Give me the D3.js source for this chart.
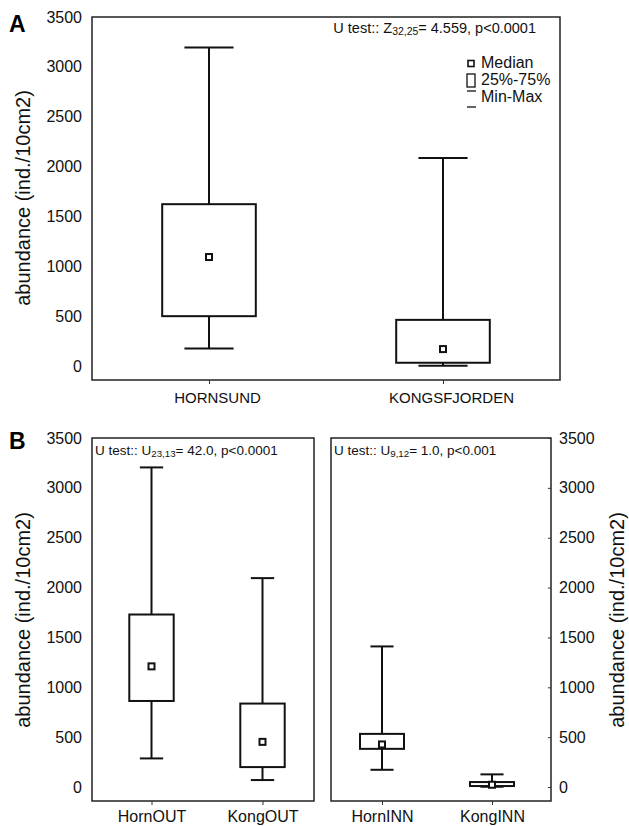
<!DOCTYPE html>
<html>
<head>
<meta charset="utf-8">
<script src="https://cdn.jsdelivr.net/npm/d3@7"></script>
<style>
  body { margin: 0; background: #fff; }
  svg { font-family: "Liberation Sans", Arial, sans-serif; }
</style>
</head>
<body>
<div id="wrapper"></div>
<script>
// panel A data
const sitesA = ["HORNSUND", "KONGSFJORDEN"]
const minA = [177, 3]
const q1A = [500, 33]
const medianA = [1093, 170]
const q3A = [1623, 463]
const maxA = [3193, 2085]

// panel B data (outer / inner fjord)
const sitesOut = ["HornOUT", "KongOUT"]
const minOut = [287, 70]
const q1Out = [863, 200]
const medianOut = [1210, 453]
const q3Out = [1730, 837]
const maxOut = [3205, 2095]

const sitesInn = ["HornINN", "KongINN"]
const minInn = [173, 3]
const q1Inn = [383, 10]
const medianInn = [427, 23]
const q3Inn = [533, 50]
const maxInn = [1410, 127]

const yTicks = [0, 500, 1000, 1500, 2000, 2500, 3000, 3500]
const yDomain = [-140, 3500]
const yTitle = "abundance (ind./10cm2)"

const width = 629
const height = 826

const svg = d3.select("#wrapper")
  .append("svg")
    .attr("width", width)
    .attr("height", height)

function rows(sites, mins, q1s, meds, q3s, maxs) {
  return sites.map((s, i) => ({site: s, min: mins[i], q1: q1s[i], median: meds[i], q3: q3s[i], max: maxs[i]}))
}

// draws one framed box plot panel
function drawPanel(p) {
  const g = svg.append("g")
  const x = d3.scalePoint()
    .domain(p.data.map(d => d.site))
    .range([p.left + p.shift, p.right + p.shift])
    .padding(0.5)
  const y = d3.scaleLinear()
    .domain(yDomain)
    .range([p.bottom, p.top])

  const boxW = (p.right - p.left) * 0.2
  const capW = (p.right - p.left) * 0.105

  // frame
  g.append("rect")
    .attr("x", p.left)
    .attr("y", p.top)
    .attr("width", p.right - p.left)
    .attr("height", p.bottom - p.top)
    .attr("fill", "none")
    .attr("stroke", "#222")
    .attr("stroke-width", 1.5)

  // y axis
  if (p.axis) {
    const axis = (p.axis === "left" ? d3.axisLeft(y) : d3.axisRight(y))
      .tickValues(yTicks)
      .tickFormat(d3.format("d"))
      .tickSize(p.axis === "left" ? 0 : -3)
      .tickPadding(p.axis === "left" ? 10 : 8)
    const ax = g.append("g")
      .attr("transform", `translate(${p.axis === "left" ? p.left : p.right},0)`)
      .call(axis)
    ax.select(".domain").remove()
    ax.selectAll("line").attr("stroke", "#333").attr("stroke-width", 1)
    ax.selectAll("text")
      .attr("font-size", 16)
      .attr("fill", "#111")
  }

  // x ticks + labels
  const xa = g.append("g")
    .attr("transform", `translate(0,${p.bottom})`)
    .call(d3.axisBottom(x).tickSize(4).tickPadding(p.labelPad))
  xa.select(".domain").remove()
  xa.selectAll("line").attr("stroke", "#333")
  xa.selectAll("text")
    .attr("font-size", p.labelSize)
    .attr("fill", "#111")
    .attr("dx", p.labelDx)

  const box = g.selectAll(".box")
    .data(p.data)
    .join("g")
      .attr("class", "box")

  // whiskers
  box.append("line")
    .attr("x1", d => x(d.site)).attr("x2", d => x(d.site))
    .attr("y1", d => y(d.max)).attr("y2", d => y(d.q3))
  box.append("line")
    .attr("x1", d => x(d.site)).attr("x2", d => x(d.site))
    .attr("y1", d => y(d.q1)).attr("y2", d => y(d.min))
  box.append("line")
    .attr("x1", d => x(d.site) - capW / 2).attr("x2", d => x(d.site) + capW / 2)
    .attr("y1", d => y(d.max)).attr("y2", d => y(d.max))
  box.append("line")
    .attr("x1", d => x(d.site) - capW / 2).attr("x2", d => x(d.site) + capW / 2)
    .attr("y1", d => y(d.min)).attr("y2", d => y(d.min))

  // 25%-75% box
  box.append("rect")
    .attr("x", d => x(d.site) - boxW / 2)
    .attr("width", boxW)
    .attr("y", d => y(d.q3))
    .attr("height", d => Math.max(y(d.q1) - y(d.q3), 1))
    .attr("fill", "#fff")

  // median square
  box.append("rect")
    .attr("x", d => x(d.site) - 3)
    .attr("y", d => y(d.median) - 3)
    .attr("width", 6)
    .attr("height", 6)
    .attr("fill", "#fff")

  box.selectAll("line, rect")
    .attr("stroke", "#111")
    .attr("stroke-width", 2)

  // test text
  const t = g.append("text")
    .attr("x", p.statX)
    .attr("y", p.statY)
    .attr("font-size", p.statSize)
    .attr("text-anchor", p.statAnchor)
    .attr("fill", "#111")
  t.append("tspan").text(p.stat[0])
  t.append("tspan").text(p.stat[1]).attr("font-size", p.statSize * 0.72).attr("dy", 2)
  t.append("tspan").text(p.stat[2]).attr("dy", -2)
}

drawPanel({
  data: rows(sitesA, minA, q1A, medianA, q3A, maxA),
  left: 92, right: 560, top: 17, bottom: 380, shift: 0,
  axis: "left", labelSize: 15, labelPad: 8, labelDx: 8,
  stat: ["U test:: Z", "32,25", "= 4.559, p<0.0001"],
  statX: 536, statY: 33, statSize: 14.5, statAnchor: "end"
})

drawPanel({
  data: rows(sitesOut, minOut, q1Out, medianOut, q3Out, maxOut),
  left: 92, right: 314, top: 438, bottom: 801, shift: 4,
  axis: "left", labelSize: 16, labelPad: 6, labelDx: 0,
  stat: ["U test:: U", "23,13", "= 42.0, p<0.0001"],
  statX: 95, statY: 455, statSize: 13.5, statAnchor: "start"
})

drawPanel({
  data: rows(sitesInn, minInn, q1Inn, medianInn, q3Inn, maxInn),
  left: 331, right: 551, top: 438, bottom: 801, shift: -4,
  axis: "right", labelSize: 16, labelPad: 6, labelDx: 0,
  stat: ["U test:: U", "9,12", "= 1.0, p<0.001"],
  statX: 334, statY: 455, statSize: 13.5, statAnchor: "start"
})

// axis titles
const titles = [
  {x: 30, y: 198},
  {x: 30, y: 620},
  {x: 624, y: 620}
]
svg.selectAll(".ytitle")
  .data(titles)
  .join("text")
    .attr("class", "ytitle")
    .attr("transform", d => `translate(${d.x},${d.y}) rotate(-90)`)
    .attr("text-anchor", "middle")
    .attr("font-size", 20)
    .attr("fill", "#111")
    .text(yTitle)

// panel letters
svg.append("text").attr("x", 9).attr("y", 32).attr("font-size", 23).attr("font-weight", "bold").text("A")
svg.append("text").attr("x", 9).attr("y", 449).attr("font-size", 23).attr("font-weight", "bold").text("B")

// legend for panel A
const legend = svg.append("g").attr("font-size", 16).attr("fill", "#111")
legend.append("rect").attr("x", 468).attr("y", 60.5).attr("width", 6).attr("height", 6)
  .attr("fill", "#fff").attr("stroke", "#111").attr("stroke-width", 1.6)
legend.append("rect").attr("x", 467).attr("y", 74).attr("width", 8).attr("height", 13)
  .attr("fill", "#fff").attr("stroke", "#111").attr("stroke-width", 1.3)
legend.append("line").attr("x1", 467).attr("x2", 476).attr("y1", 91).attr("y2", 91)
  .attr("stroke", "#111").attr("stroke-width", 1.3)
legend.append("line").attr("x1", 467).attr("x2", 476).attr("y1", 107).attr("y2", 107)
  .attr("stroke", "#111").attr("stroke-width", 1.3)
legend.append("text").attr("x", 481).attr("y", 68).text("Median")
legend.append("text").attr("x", 481).attr("y", 85).text("25%-75%")
legend.append("text").attr("x", 481).attr("y", 102).text("Min-Max")
</script>
</body>
</html>
